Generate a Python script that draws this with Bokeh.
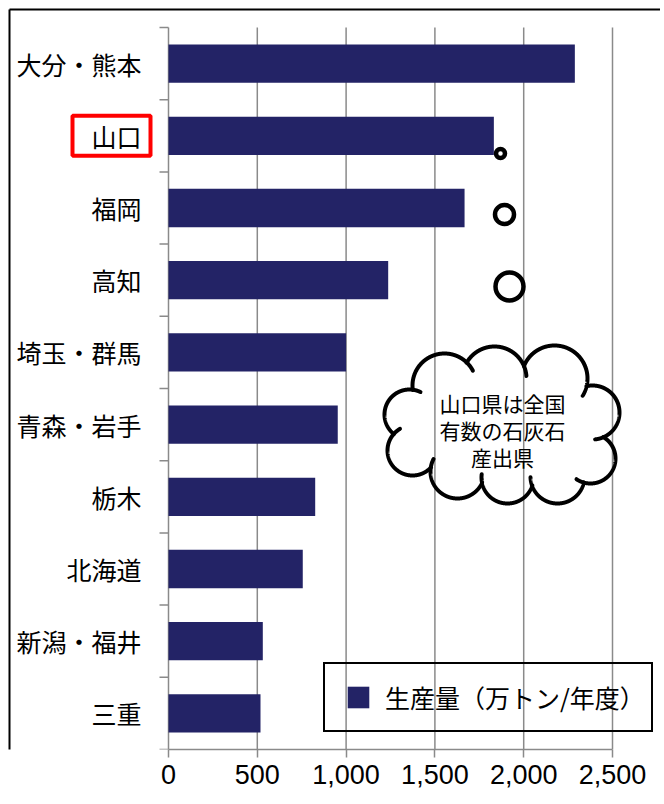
import numpy as np
from bokeh.plotting import figure
from bokeh.models import Range1d, FixedTicker, Legend, LegendItem, ColumnDataSource
from bokeh.core.properties import value
from bokeh.embed import file_html
from bokeh.resources import INLINE

# ---------------- data ----------------
categories = ["大分・熊本", "山口", "福岡", "高知", "埼玉・群馬",
              "青森・岩手", "栃木", "北海道", "新潟・福井", "三重"]
production = [2288, 1832, 1667, 1237, 1000, 953, 826, 756, 531, 518]
x_ticks = [0, 500, 1000, 1500, 2000, 2500]
x_tick_labels = ["0", "500", "1,000", "1,500", "2,000", "2,500"]
legend_label = "生産量（万トン/年度）"
callout_lines = ["山口県は全国", "有数の石灰石", "産出県"]
highlight = "山口"

# ---------------- layout (canvas px == page px) ----------------
W, H = 660, 800
X0PX, TOPPX, AXPX = 168, 27, 749     # value 0, top of plot area, x axis
PX_PER_2500 = 444.0
n = len(categories)
band = (AXPX - TOPPX) / n

def px2x(px):
    return (px - X0PX) * 2500 / PX_PER_2500

def py2y(py):
    return (py - TOPPX) / band

NAVY = "#232366"
GRAY = "#8a8a8a"
JP = "Noto Sans CJK JP"

p = figure(width=W, height=H, output_backend="svg", toolbar_location=None,
           x_range=Range1d(px2x(0), px2x(W)), y_range=Range1d(py2y(AXPX), py2y(0)),
           y_axis_location=None,
           min_border_left=0, min_border_right=0, min_border_top=0,
           min_border_bottom=H - AXPX)
p.outline_line_color = None
p.background_fill_color = "white"
p.border_fill_color = "white"
p.xgrid.grid_line_color = None
p.ygrid.grid_line_color = None

ys = [i + 0.5 for i in range(n)]

# vertical grid lines (value axis) spanning the category area
p.segment(x0=x_ticks, x1=x_ticks, y0=[0] * len(x_ticks), y1=[n] * len(x_ticks),
          line_color=GRAY, line_width=1.5)

# category axis: boundary ticks + labels
bounds_y = list(range(n + 1))
p.segment(x0=[px2x(X0PX - 9)] * (n + 1), x1=[0] * (n + 1), y0=bounds_y, y1=bounds_y,
          line_color=GRAY, line_width=1.5)
p.text(x=[0] * n, y=ys, text=categories, x_offset=-27,
       text_align="right", text_baseline="middle", text_color="black",
       text_font=value(JP), text_font_size="25px")

# bars
src = ColumnDataSource(dict(y=ys, v=production, cat=categories))
bars = p.hbar(y="y", left=0, right="v", height=0.53, source=src,
              fill_color=NAVY, line_color=None)

# x axis
p.xaxis.ticker = FixedTicker(ticks=x_ticks)
p.xaxis.bounds = (0, 2500)
p.xaxis.major_label_overrides = {t: l for t, l in zip(x_ticks, x_tick_labels)}
p.xaxis.axis_line_color = GRAY
p.xaxis.axis_line_width = 1.5
p.xaxis.major_tick_line_color = GRAY
p.xaxis.major_tick_line_width = 1.5
p.xaxis.major_tick_out = 8
p.xaxis.major_tick_in = 0
p.xaxis.minor_tick_line_color = None
p.xaxis.major_label_text_font = "Liberation Sans"
p.xaxis.major_label_text_font_size = "27px"
p.xaxis.major_label_text_color = "black"
p.xaxis.major_label_standoff = 7

# red frame around the 山口 label
hl_y = ys[categories.index(highlight)]
p.rect(x=[px2x(111)], y=[hl_y], width=[78], height=[40],
       width_units="screen", height_units="screen",
       fill_alpha=0, line_color="#ff0000", line_width=4)

# outer chart border (left / top edges)
p.segment(x0=[px2x(9), px2x(9)], y0=[py2y(9), py2y(9)],
          x1=[px2x(9), px2x(W + 20)], y1=[py2y(H + 20), py2y(9)],
          line_color="black", line_width=2)

# bubbles of the callout (page px centre, marker size)
bubble_px = [(500, 153, 9), (504, 214, 19), (509, 286, 28)]
p.scatter(x=[px2x(b[0]) for b in bubble_px], y=[py2y(b[1]) for b in bubble_px],
          size=[b[2] for b in bubble_px], marker="circle",
          fill_color="white", line_color="black", line_width=4.5)

# cloud outline: union of circles (page px), with short inner hooks
bumps = [(444, 385, 32), (494, 378, 32), (554, 378, 33), (592, 412, 27),
         (590, 458, 25), (557, 476, 27), (507, 477, 26), (457, 471, 27),
         (412, 450, 25), (409, 414, 25)]
ell = (502, 428, 95, 50)
NS = 720
HOOK = 36          # samples (18 degrees) of inner continuation

def inside(px, py, skip):
    for j, (cx, cy, r) in enumerate(bumps):
        if j != skip and (px - cx) ** 2 + (py - cy) ** 2 < (r - 0.3) ** 2:
            return True
    ex, ey, a, b = ell
    return ((px - ex) / a) ** 2 + ((py - ey) / b) ** 2 < 1

cxs, cys = [], []
angles = np.linspace(0, 2 * np.pi, NS + 1)[:-1]
for j, (cx, cy, r) in enumerate(bumps):
    exp = [not inside(cx + r * np.cos(t), cy + r * np.sin(t), j) for t in angles]
    if not any(exp) or all(exp):
        continue
    start = exp.index(False)
    order = [(start + k) % NS for k in range(NS)]
    runs, run = [], []
    for k in order + [order[0]]:
        if exp[k]:
            run.append(k)
        elif run:
            runs.append(run)
            run = []
    if run:
        runs.append(run)
    for run in runs:
        idx = run + [(run[-1] + m) % NS for m in range(1, HOOK + 1)]
        cxs.append([px2x(cx + r * np.cos(angles[k])) for k in idx])
        cys.append([py2y(cy + r * np.sin(angles[k])) for k in idx])
p.multi_line(xs=cxs, ys=cys, line_color="black", line_width=4, line_cap="round")

line_py = [402, 429, 456]
p.text(x=[px2x(502)] * 3, y=[py2y(v) for v in line_py], text=callout_lines,
       text_align="center", text_baseline="middle", text_color="black",
       text_font=value(JP), text_font_size="21px")

# legend
sq = p.scatter(x=[np.nan], y=[np.nan], marker="square", size=14,
               fill_color=NAVY, line_color=None)
legend = Legend(items=[LegendItem(label=legend_label, renderers=[sq])],
                location=(323, AXPX - 732),
                glyph_width=54, glyph_height=54, padding=6, label_standoff=0,
                label_width=260, margin=0, spacing=0,
                border_line_color="black", border_line_width=2.5,
                border_line_alpha=1.0,
                background_fill_alpha=0,
                label_text_font=JP, label_text_font_size="25px",
                label_text_color="black")
p.add_layout(legend)

open("out.html", "w").write(file_html(p, INLINE))
